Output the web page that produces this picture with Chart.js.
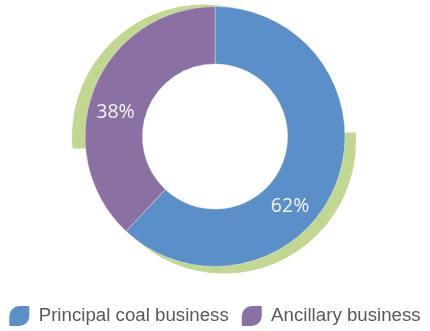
<!DOCTYPE html>
<html>
<head>
<meta charset="utf-8">
<script src="https://cdn.jsdelivr.net/npm/chart.js@4.4.1/dist/chart.umd.min.js"></script>
<style>
  html, body { margin: 0; padding: 0; background: #ffffff; }
  #wrap { width: 430px; height: 331px; position: relative; }
</style>
</head>
<body>
<div id="wrap"><canvas id="c"></canvas></div>
<script>
// ---- data ----
const categories = ["Principal coal business", "Ancillary business"];
const shares = [62, 38];
const sliceColors = ["#5B8FCA", "#8B70A3"];
const shadowColor = "#C2D890";
// where along each slice its label sits (0 = start, 1 = end of the slice)
const labelAlong = [0.595, 0.44];

const shadowPlugin = {
  id: 'greenShadow',
  beforeDatasetsDraw(chart) {
    const arc = chart.getDatasetMeta(0).data[0];
    if (!arc) return;
    const {x, y, outerRadius: R} = arc;
    const ctx = chart.ctx;
    const ring = (dx, dy) => {
      ctx.beginPath();
      ctx.arc(x + dx, y + dy, R + 2, 0, Math.PI * 2);
      ctx.arc(x + dx, y + dy, R * 0.75, 0, Math.PI * 2, true);
      ctx.closePath();
      ctx.fillStyle = shadowColor;
      ctx.fill();
    };
    // upper-left sliver
    ctx.save();
    ctx.beginPath();
    ctx.rect(0, 0, chart.width, y + 12);
    ctx.clip();
    ring(-11, 0);
    ctx.restore();
    // lower-right sliver
    ctx.save();
    ctx.beginPath();
    ctx.rect(0, y - 4, chart.width, chart.height);
    ctx.clip();
    ring(9, 5);
    ctx.restore();
  }
};

const labelPlugin = {
  id: 'pctLabels',
  afterDatasetsDraw(chart) {
    const meta = chart.getDatasetMeta(0);
    const ctx = chart.ctx;
    ctx.save();
    ctx.font = '19.5px "Open Sans", sans-serif';
    ctx.fillStyle = '#F4F4F4';
    ctx.textAlign = 'center';
    ctx.textBaseline = 'middle';
    meta.data.forEach((a, i) => {
      const ang = a.startAngle + (a.endAngle - a.startAngle) * labelAlong[i];
      const r = (a.innerRadius + a.outerRadius) / 2 + 1;
      ctx.fillText(shares[i] + '%', a.x + Math.cos(ang) * r, a.y + Math.sin(ang) * r);
    });
    ctx.restore();
  }
};

new Chart(document.getElementById('c'), {
  type: 'doughnut',
  data: {
    labels: categories,
    datasets: [{
      data: shares,
      backgroundColor: sliceColors,
      borderColor: 'rgba(255,255,255,0.45)',
      borderWidth: 0.8,
      hoverOffset: 0
    }]
  },
  options: {
    responsive: true,
    maintainAspectRatio: false,
    animation: false,
    radius: 130,
    cutout: 76,
    layout: { padding: { top: 0, bottom: -5, left: -5, right: -5 } },
    plugins: {
      tooltip: { enabled: false },
      legend: {
        position: 'bottom',
        title: { display: true, text: '', font: { size: 10, lineHeight: 1 }, padding: 5 },
        labels: {
          boxWidth: 20,
          boxHeight: 20,
          padding: 13,
          color: '#595959',
          font: { family: '"Liberation Sans", Arial, sans-serif', size: 18.7 },
          useBorderRadius: true,
          generateLabels(chart) {
            return categories.map((t, i) => ({
              text: t,
              fillStyle: sliceColors[i],
              strokeStyle: 'rgba(0,0,0,0)',
              lineWidth: 0,
              fontColor: '#595959',
              hidden: false,
              index: i,
              borderRadius: { topLeft: 10, topRight: 1, bottomRight: 10, bottomLeft: 1 }
            }));
          }
        }
      }
    }
  },
  plugins: [shadowPlugin, labelPlugin]
});
</script>
</body>
</html>
